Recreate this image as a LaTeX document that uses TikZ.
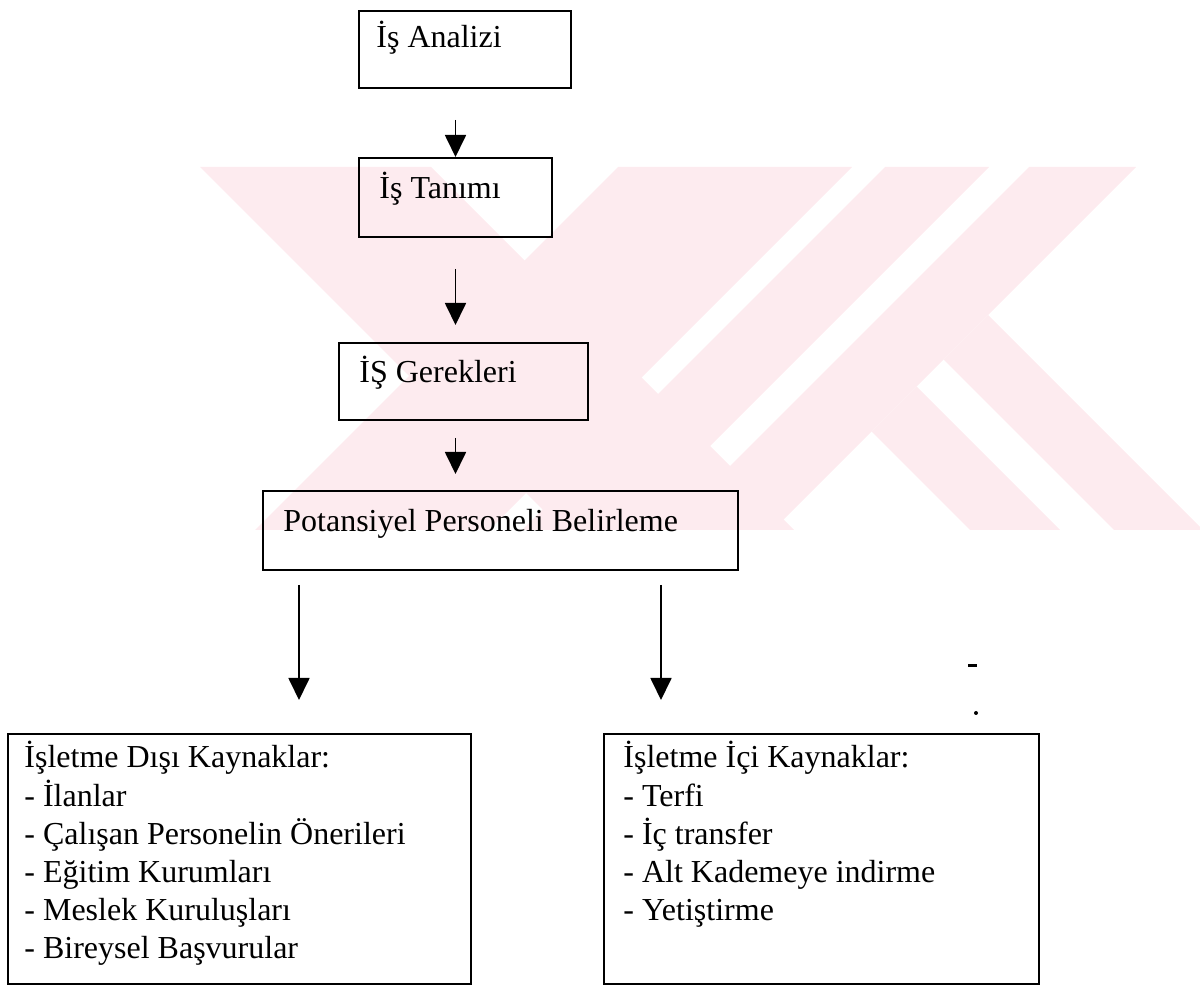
\documentclass[tikz,border=0pt]{standalone}
\usepackage{fontspec}
\setmainfont{Liberation Serif}
\usepackage{tikz}
\usetikzlibrary{arrows.meta}
\usetikzlibrary{calc}

\definecolor{yokpembe}{RGB}{253,235,239}

\begin{document}
\begin{tikzpicture}[x=0.5pt,y=-0.5pt,font=\fontsize{16}{18.75}\selectfont,
	kutu/.style={draw,line width=1pt,anchor=north west,inner sep=0pt},
	yazi/.style={anchor=base west,inner sep=0pt},
	ok/.style={line width=0.9pt,-{Triangle[length=11pt,width=10.5pt]}}]
	\useasboundingbox (0,0) rectangle (1200,988);
	\begin{scope}
		\clip (0,167) rectangle (1200,530);
		\foreach \a/\b/\c/\d in {200/431/794/563, 618/852/489/255, 885/989/626/522, 1029/1136/773/666} {
			\fill[yokpembe] (\a,167) -- (\b,167) -- (\c,530) -- (\d,530) -- cycle;
		}
		\fill[yokpembe] (871.5,431.5) -- (916.5,386.5) -- (1060,530) -- (970,530) -- cycle;
		\fill[yokpembe] (943.5,359.5) -- (988,315) -- (1203,530) -- (1114,530) -- cycle;
	\end{scope}
	
	\node[kutu,minimum width=106pt,minimum height=38.5pt] (analiz) at (358,10) {};
	\node[kutu,minimum width=96.5pt,minimum height=39.5pt] (tanim) at (358,157) {};
	\node[kutu,minimum width=124.5pt,minimum height=38.5pt] (gerek) at (338,342) {};
	\node[kutu,minimum width=237.5pt,minimum height=39.5pt] (potans) at (262,490) {};
	\node[kutu,minimum width=231.5pt,minimum height=125pt] (dis) at (7,733) {};
	\node[kutu,minimum width=217.5pt,minimum height=125pt] (ici) at (603,733) {};
	
	\node[yazi] (analizY) at (376,48) {İş Analizi};
	\node[yazi] (tanimY) at (379,199) {İş Tanımı};
	\node[yazi] (gerekY) at (359,383) {İŞ Gerekleri};
	\node[yazi] (potansY) at (283,532) {Potansiyel Personeli Belirleme};
	\foreach \satir [count=\i] in {İşletme Dışı Kaynaklar:, - İlanlar, - Çalışan Personelin Önerileri, - Eğitim Kurumları, - Meslek Kuruluşları, - Bireysel Başvurular} {
		\node[yazi] (dis\i) at (24,{768+38*(\i-1)}) {\satir};
	}
	\foreach \satir [count=\i] in {İşletme İçi Kaynaklar:, - Terfi, - İç transfer, - Alt Kademeye indirme, - Yetiştirme} {
		\node[yazi] (ici\i) at (623,{768+38*(\i-1)}) {\satir};
	}
	
	\coordinate (sol) at (299,0);
	\coordinate (sag) at (661,0);
	\draw[ok,shorten <=15.5pt] (analiz.south -| tanim.north) -- (tanim.north);
	\draw[ok,shorten <=15.5pt,shorten >=8.5pt] (tanim.south) -- (gerek.north -| tanim.south);
	\draw[ok,shorten <=8.5pt,shorten >=8pt] (gerek.south -| tanim.south) -- (potans.north -| tanim.south);
	\draw[ok,shorten <=7pt,shorten >=16.5pt] (potans.south -| sol) -- (dis.north -| sol);
	\draw[ok,shorten <=7pt,shorten >=16.5pt] (potans.south -| sag) -- (ici.north -| sag);
	
	\fill (968,664) rectangle (977,667);
	\fill (976,713) circle (1pt);
\end{tikzpicture}
\end{document}
